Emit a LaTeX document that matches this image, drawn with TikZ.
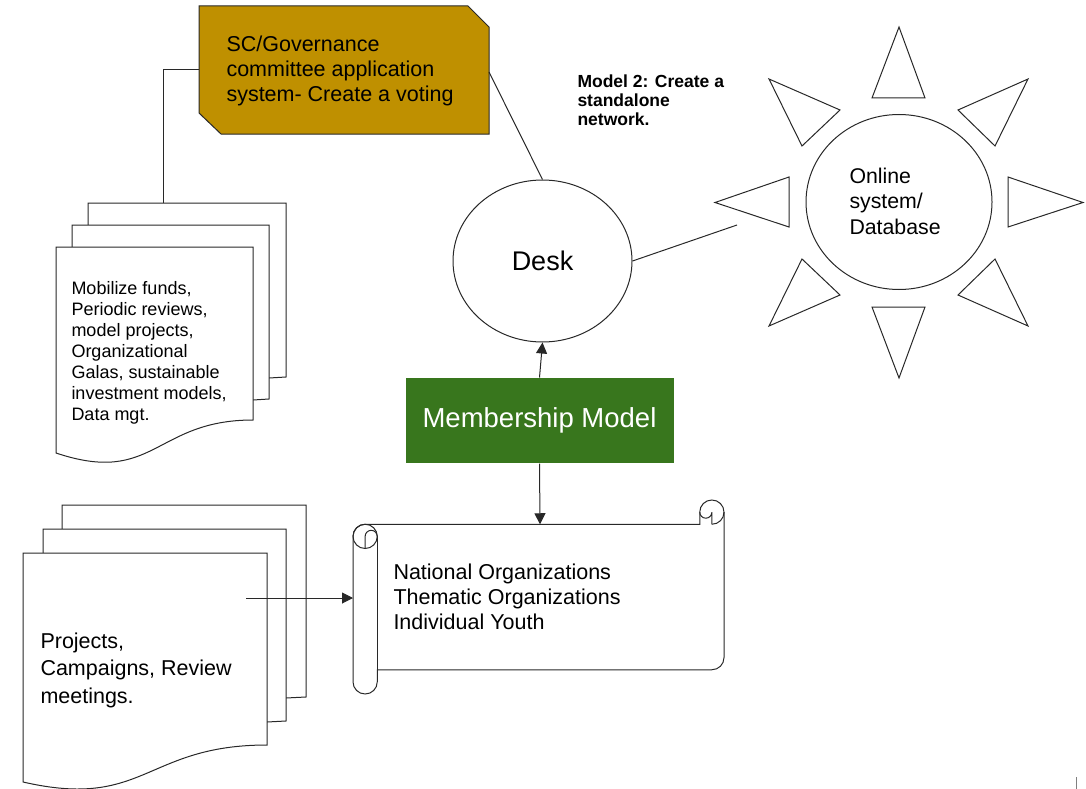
\documentclass[tikz,border=0pt]{standalone}
\usepackage{fontspec}
\setmainfont{Liberation Sans}
\usetikzlibrary{arrows.meta,shapes.geometric}
\definecolor{gold}{RGB}{191,144,0}
\definecolor{mgreen}{RGB}{56,118,29}
\definecolor{ln}{RGB}{40,40,40}
\begin{document}
\begin{tikzpicture}[x=1pt,y=-1pt,line width=1pt,
  shapeline/.style={draw=ln,line width=1pt},
  conn/.style={draw=ln,line width=1pt},
  arr/.style={conn,-{Triangle[length=11pt,width=11pt]}},
  page/.style={shapeline,fill=white},
  lbl/.style={inner sep=0pt,align=left,anchor=west,text=black}]
\useasboundingbox (0,0) rectangle (1086,789);
% --- document stack 1 ---
\draw[page] (88,225) -- (88,203) -- (286,203) -- (286,377) -- (269,378);
\draw[page] (72,247) -- (72,225) -- (269,225) -- (269,399) -- (253,400);
\draw[page] (56,247) -- (253,247) -- (253,420) .. controls (154.5,420) and (154.5,486) .. (56,453) -- cycle;
% --- document stack 2 ---
\draw[page] (62,529) -- (62,505) -- (306,505) -- (306,697) -- (286,698);
\draw[page] (43,553) -- (43,529) -- (286,529) -- (286,721) -- (267,722);
\draw[page] (23,553) -- (267,553) -- (267,745) .. controls (145,745) and (145,810) .. (23,782) -- cycle;
% --- gold box ---
\draw[shapeline,fill=gold] (199,6) -- (468,6) -- (489,27) -- (489,134) -- (221,134) -- (199,113) -- cycle;
% --- scroll ---
\draw[shapeline,fill=white] (353,536.375) arc[start angle=180,end angle=270,radius=12.125]
  -- (699.75,524.25) -- (699.75,512.125) arc[start angle=180,end angle=360,radius=12.125]
  -- (724,657.625) arc[start angle=0,end angle=90,radius=12.125]
  -- (377.25,669.75) -- (377.25,681.875) arc[start angle=0,end angle=180,radius=12.125] -- cycle;
\draw[shapeline] (365.125,536.375) circle[radius=12.125];
\draw[shapeline] (365.125,548.5) -- (365.125,536.375) arc[start angle=180,end angle=360,radius=6.0625];
\draw[shapeline] (377.25,536.375) -- (377.25,669.75);
\draw[shapeline] (711.875,524.25) arc[start angle=90,end angle=0,radius=12.125];
\draw[shapeline] (711.875,524.25) -- (711.875,512.125) arc[start angle=0,end angle=180,radius=6.0625];
% --- sun rays ---
\draw[shapeline] (899,27) -- (925,98) -- (872,98) -- cycle;
\draw[shapeline] (899,378) -- (925,307) -- (872,307) -- cycle;
\draw[shapeline] (715,202.5) -- (789,177) -- (789,227) -- cycle;
\draw[shapeline] (1083,202.5) -- (1008,177) -- (1008,227) -- cycle;
\draw[shapeline] (769,79) -- (840,110) -- (802,146) -- cycle;
\draw[shapeline] (1028,79) -- (958,110) -- (995,146) -- cycle;
\draw[shapeline] (802,259) -- (840,295) -- (769,326) -- cycle;
\draw[shapeline] (995,259) -- (958,295) -- (1028,326) -- cycle;
% --- nodes ---
\node[ellipse,shapeline,minimum width=186pt,minimum height=175pt,inner sep=0pt] (sun) at (899,202) {};
\node[lbl,font=\fontsize{21.3}{25.5}\selectfont] (suntxt) at (849,201) {Online\\system/\\Database};
\node[ellipse,shapeline,fill=white,minimum width=179pt,minimum height=162pt,inner sep=0pt,font=\fontsize{27}{32}\selectfont] (desk) at (542.5,261) {Desk};
\node[fill=mgreen,minimum width=268pt,minimum height=85pt,inner sep=0pt,text=white,font=\fontsize{27.5}{33}\selectfont] (mm) at (539.5,420.5) {\raisebox{-2pt}{Membership Model}};
\node[lbl,font=\fontsize{21.5}{25}\selectfont] (goldtxt) at (226,71.4) {SC/Governance\\committee application\\system- Create a voting};
\node[lbl,font=\bfseries\fontsize{17.5}{19}\selectfont] (model) at (577,100.6) {Model 2: Create a\\standalone\\network.};
\node[lbl,font=\fontsize{18}{20.9}\selectfont] (d1txt) at (71,353) {Mobilize funds,\\Periodic reviews,\\model projects,\\Organizational\\Galas, sustainable\\investment models,\\Data mgt.};
\node[lbl,font=\fontsize{21.5}{27.5}\selectfont] (d2txt) at (40,670) {Projects,\\Campaigns, Review\\meetings.};
\node[lbl,font=\fontsize{21.5}{25}\selectfont] (sctxt) at (393,596.5) {National Organizations\\Thematic Organizations\\Individual Youth};
% --- coordinates ---
\coordinate (g1) at (199,70);
\coordinate (g1b) at (163,70);
\coordinate (d1top) at (163,203);
\coordinate (g2) at (489,72);
\coordinate (sunend) at (737,225);
\coordinate (d2arrow) at (246,598);
\coordinate (scleft) at (353,598);
\coordinate (sctop) at (540,524.25);
% --- connectors ---
\draw[conn] (g1) -- (g1b) -- (d1top);
\draw[conn] (g2) -- (desk.north);
\draw[conn] (desk.east) -- (sunend);
\draw[arr] (mm.north) -- (desk.south);
\draw[arr] (mm.south) -- (sctop);
\draw[arr] (d2arrow) -- (scleft);
\draw[draw=gray,line width=1pt] (1076.5,777) -- (1076.5,789);
\end{tikzpicture}
\end{document}
